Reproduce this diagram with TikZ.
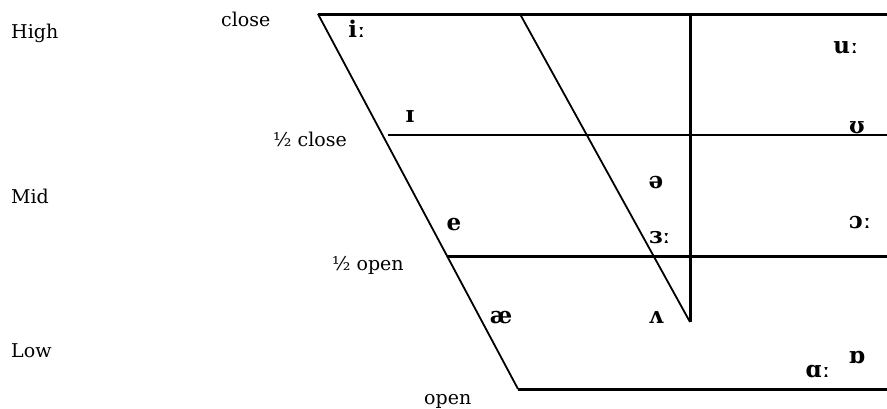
\documentclass[tikz,border=0pt]{standalone}
\usepackage{fontspec}
\setmainfont{DejaVu Serif}

\begin{document}
\begin{tikzpicture}[x=1pt, y=1pt, line cap=butt,
  level/.style={font=\fontsize{19}{21}\selectfont, anchor=base west, inner sep=0pt},
  vowel/.style={font=\fontsize{23}{25}\selectfont\bfseries, anchor=base, inner sep=0pt},
  heavyline/.style={line width=3pt},
  lightline/.style={line width=1.8pt}]
  \useasboundingbox (0,0) rectangle (887,-408);

  % corners of the vowel chart
  \coordinate (closeL) at (318,-14);
  \coordinate (closeR) at (887,-14);
  \coordinate (openL) at (518,-389);
  \coordinate (openR) at (887,-389);
  \coordinate (hcloseL) at (388,-135);
  \coordinate (hcloseR) at (887,-135);
  \coordinate (hopenL) at (447,-256);
  \coordinate (hopenR) at (887,-256);
  \coordinate (backTop) at (690,-14);
  \coordinate (centTop) at (520,-14);
  \coordinate (centBot) at (690,-322);

  \draw[heavyline] (closeL) -- (closeR);
  \draw[lightline] (closeL) -- (openL);
  \draw[heavyline] (openL) -- (openR);
  \draw[lightline] (hcloseL) -- (hcloseR);
  \draw[heavyline] (hopenL) -- (hopenR);
  \draw[heavyline] (backTop) -- (centBot);
  \draw[lightline] (centTop) -- (centBot);

  % height names
  \node[level] (high) at (11,-38) {High};
  \node[level] (mid) at (11,-203) {Mid};
  \node[level] (low) at (11,-357) {Low};
  \node[level] (close) at (221,-26) {close};
  \node[level] (hclose) at (273,-146) {½ close};
  \node[level] (hopen) at (332,-270) {½ open};
  \node[level] (open) at (424,-404) {open};

  % vowels
  \foreach \name/\xpos/\ypos/\sym in {
    iLong/357/-37/iː, iShort/410/-122/ɪ,
    uLong/846/-53/uː, uShort/857/-133/ʊ,
    schwa/656/-188/ə, erLong/660/-243/ɜː,
    oLong/860/-228/ɔː, eShort/454/-230/e,
    ash/501/-323/æ, wedge/656/-323/ʌ,
    aLong/818/-377/ɑː, oShort/857/-363/ɒ}{
    \node[vowel] (\name) at (\xpos,\ypos) {\sym};
  }
\end{tikzpicture}
\end{document}
